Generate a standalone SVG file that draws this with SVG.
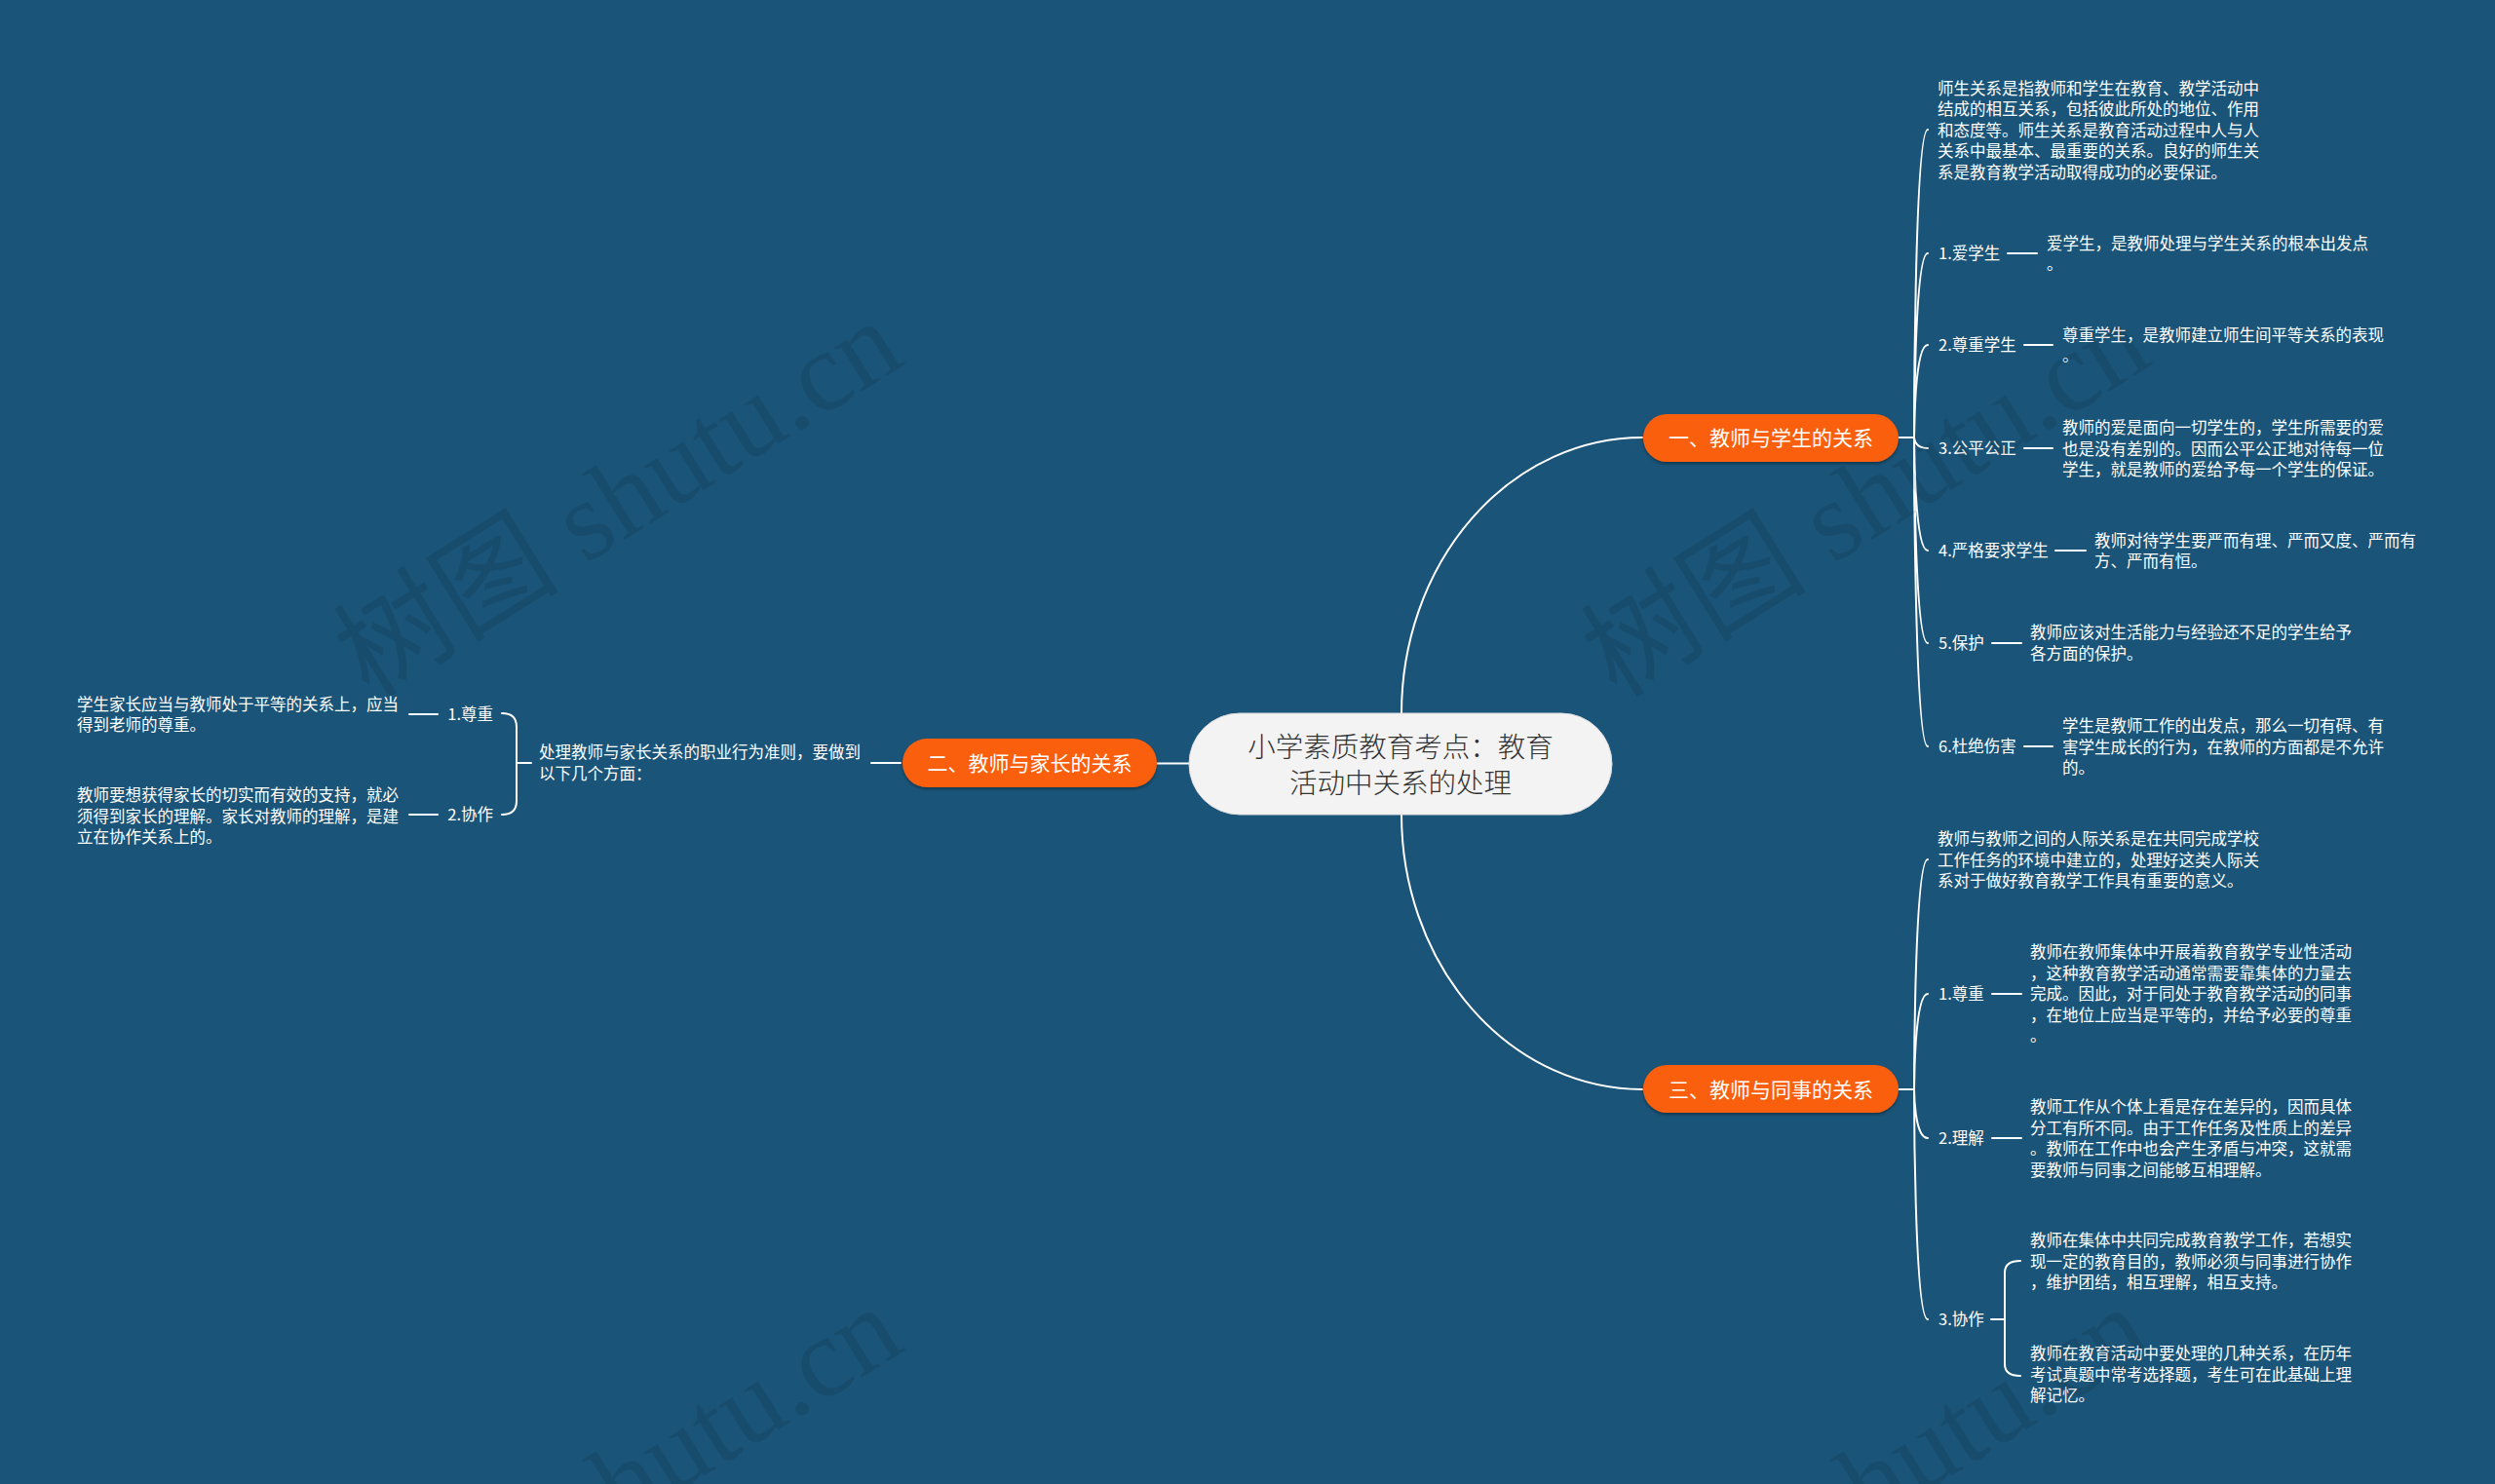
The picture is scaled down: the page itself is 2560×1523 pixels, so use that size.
<svg xmlns="http://www.w3.org/2000/svg" width="2560" height="1523" viewBox="0 0 2560 1523">
<defs>
<style>
.t{font-family:"Noto Sans CJK SC","Microsoft YaHei",sans-serif;font-size:16.5px;fill:#ffffff;dominant-baseline:central}
.e{text-anchor:end}
.c{stroke:#ffffff;stroke-width:2;fill:none;stroke-linecap:round}
.br{font-family:"Noto Sans CJK SC",sans-serif;font-size:21px;fill:#ffffff;text-anchor:middle;dominant-baseline:central}
.ctr{font-family:"Noto Sans CJK SC",sans-serif;font-size:28.5px;fill:#333333;text-anchor:middle;dominant-baseline:central;font-weight:300}
.wm{font-family:"Liberation Serif","DejaVu Serif","Noto Sans CJK SC",serif;font-size:116px;fill:#000000;fill-opacity:0.09;text-anchor:middle}
</style>
<filter id="sh" x="-10%" y="-20%" width="120%" height="150%">
<feDropShadow dx="0" dy="2" stdDeviation="1.5" flood-color="#000000" flood-opacity="0.35"/>
</filter>
</defs>
<rect width="2560" height="1523" fill="#1a5478"/>

<g id="connectors">
<path class="c" d="M1438,732 A247,283 0 0 1 1685,449"/>
<path class="c" d="M1438,836 A247,282 0 0 0 1685,1118"/>
<path class="c" d="M1187,783.5 H1220"/>
<path class="c" d="M1948,449 H1964"/>
<path class="c" d="M1964,449 C1964,449 1964,133 1978,133"/>
<path class="c" d="M1964,449 C1964,449 1964,260 1978,260"/>
<path class="c" d="M1964,449 C1964,449 1964,354 1978,354"/>
<path class="c" d="M1964,449 C1964,449 1964,460 1978,460"/>
<path class="c" d="M1964,449 C1964,449 1964,565 1978,565"/>
<path class="c" d="M1964,449 C1964,449 1964,660 1978,660"/>
<path class="c" d="M1964,449 C1964,449 1964,766 1978,766"/>
<path class="c" d="M2060,260 H2090"/>
<path class="c" d="M2077,354 H2106"/>
<path class="c" d="M2077,460 H2106"/>
<path class="c" d="M2109,565 H2140"/>
<path class="c" d="M2044,660 H2074"/>
<path class="c" d="M2077,766 H2106"/>
<path class="c" d="M1948,1118 H1964"/>
<path class="c" d="M1964,1118 C1964,1118 1964,882 1978,882"/>
<path class="c" d="M1964,1118 C1964,1118 1964,1020 1978,1020"/>
<path class="c" d="M1964,1118 C1964,1118 1964,1168 1978,1168"/>
<path class="c" d="M1964,1118 C1964,1118 1964,1354 1978,1354"/>
<path class="c" d="M2044,1020 H2074"/>
<path class="c" d="M2044,1168 H2074"/>
<path class="c" d="M2043,1354 H2057"/>
<path class="c" d="M2073,1294 Q2057,1294 2057,1306 L2057,1400 Q2057,1412 2073,1412"/>
<path class="c" d="M894,783 H924"/>
<path class="c" d="M530,783 H545"/>
<path class="c" d="M515,732 Q530,732 530,746 L530,822 Q530,836 515,836"/>
<path class="c" d="M420,733 H449"/>
<path class="c" d="M420,836 H449"/>
</g>

<g id="center">
<rect x="1220" y="732" width="434" height="104" rx="52" fill="#f3f3f3" stroke="#dcdcdc" stroke-width="1"/>
<text class="ctr" x="1437" y="764">小学素质教育考点：教育</text>
<text class="ctr" x="1437" y="801">活动中关系的处理</text>
</g>

<g id="b1">
<rect x="1686" y="425" width="262" height="49" rx="24.5" fill="#f95e0a" filter="url(#sh)"/>
<text class="br" x="1817" y="448">一、教师与学生的关系</text>
</g>
<g id="b2">
<rect x="926" y="758" width="261" height="50" rx="25" fill="#f95e0a" filter="url(#sh)"/>
<text class="br" x="1056.5" y="782">二、教师与家长的关系</text>
</g>
<g id="b3">
<rect x="1686" y="1093" width="262" height="49" rx="24.5" fill="#f95e0a" filter="url(#sh)"/>
<text class="br" x="1817" y="1117">三、教师与同事的关系</text>
</g>

<g id="b1-desc">
<text class="t" x="1988" y="89.5">师生关系是指教师和学生在教育、教学活动中</text>
<text class="t" x="1988" y="111">结成的相互关系，包括彼此所处的地位、作用</text>
<text class="t" x="1988" y="132.5">和态度等。师生关系是教育活动过程中人与人</text>
<text class="t" x="1988" y="154">关系中最基本、最重要的关系。良好的师生关</text>
<text class="t" x="1988" y="175.5">系是教育教学活动取得成功的必要保证。</text>
</g>
<g id="b1-1">
<text class="t" x="1989" y="259">1.爱学生</text>
<text class="t" x="2100" y="248.5">爱学生，是教师处理与学生关系的根本出发点</text>
<text class="t" x="2100" y="270">。</text>
</g>
<g id="b1-2">
<text class="t" x="1989" y="353">2.尊重学生</text>
<text class="t" x="2116" y="342.5">尊重学生，是教师建立师生间平等关系的表现</text>
<text class="t" x="2116" y="364">。</text>
</g>
<g id="b1-3">
<text class="t" x="1989" y="459">3.公平公正</text>
<text class="t" x="2116" y="438">教师的爱是面向一切学生的，学生所需要的爱</text>
<text class="t" x="2116" y="459.5">也是没有差别的。因而公平公正地对待每一位</text>
<text class="t" x="2116" y="481">学生，就是教师的爱给予每一个学生的保证。</text>
</g>
<g id="b1-4">
<text class="t" x="1989" y="564">4.严格要求学生</text>
<text class="t" x="2149" y="553.5">教师对待学生要严而有理、严而又度、严而有</text>
<text class="t" x="2149" y="575">方、严而有恒。</text>
</g>
<g id="b1-5">
<text class="t" x="1989" y="659">5.保护</text>
<text class="t" x="2083" y="648">教师应该对生活能力与经验还不足的学生给予</text>
<text class="t" x="2083" y="669.5">各方面的保护。</text>
</g>
<g id="b1-6">
<text class="t" x="1989" y="765">6.杜绝伤害</text>
<text class="t" x="2116" y="744">学生是教师工作的出发点，那么一切有碍、有</text>
<text class="t" x="2116" y="765.5">害学生成长的行为，在教师的方面都是不允许</text>
<text class="t" x="2116" y="787">的。</text>
</g>

<g id="b3-desc">
<text class="t" x="1988" y="860">教师与教师之间的人际关系是在共同完成学校</text>
<text class="t" x="1988" y="881.5">工作任务的环境中建立的，处理好这类人际关</text>
<text class="t" x="1988" y="903">系对于做好教育教学工作具有重要的意义。</text>
</g>
<g id="b3-1">
<text class="t" x="1989" y="1019">1.尊重</text>
<text class="t" x="2083" y="976">教师在教师集体中开展着教育教学专业性活动</text>
<text class="t" x="2083" y="997.5">，这种教育教学活动通常需要靠集体的力量去</text>
<text class="t" x="2083" y="1019">完成。因此，对于同处于教育教学活动的同事</text>
<text class="t" x="2083" y="1040.5">，在地位上应当是平等的，并给予必要的尊重</text>
<text class="t" x="2083" y="1062">。</text>
</g>
<g id="b3-2">
<text class="t" x="1989" y="1167">2.理解</text>
<text class="t" x="2083" y="1135">教师工作从个体上看是存在差异的，因而具体</text>
<text class="t" x="2083" y="1156.5">分工有所不同。由于工作任务及性质上的差异</text>
<text class="t" x="2083" y="1178">。教师在工作中也会产生矛盾与冲突，这就需</text>
<text class="t" x="2083" y="1199.5">要教师与同事之间能够互相理解。</text>
</g>
<g id="b3-3">
<text class="t" x="1989" y="1353">3.协作</text>
</g>
<g id="b3-3a">
<text class="t" x="2083" y="1272">教师在集体中共同完成教育教学工作，若想实</text>
<text class="t" x="2083" y="1293.5">现一定的教育目的，教师必须与同事进行协作</text>
<text class="t" x="2083" y="1315">，维护团结，相互理解，相互支持。</text>
</g>
<g id="b3-3b">
<text class="t" x="2083" y="1388">教师在教育活动中要处理的几种关系，在历年</text>
<text class="t" x="2083" y="1409.5">考试真题中常考选择题，考生可在此基础上理</text>
<text class="t" x="2083" y="1431">解记忆。</text>
</g>

<g id="b2-desc">
<text class="t" x="553" y="771">处理教师与家长关系的职业行为准则，要做到</text>
<text class="t" x="553" y="792.5">以下几个方面：</text>
</g>
<g id="b2-1">
<text class="t e" x="506" y="732">1.尊重</text>
<text class="t" x="79" y="721.5">学生家长应当与教师处于平等的关系上，应当</text>
<text class="t" x="79" y="743">得到老师的尊重。</text>
</g>
<g id="b2-2">
<text class="t e" x="506" y="835">2.协作</text>
<text class="t" x="79" y="815">教师要想获得家长的切实而有效的支持，就必</text>
<text class="t" x="79" y="836.5">须得到家长的理解。家长对教师的理解，是建</text>
<text class="t" x="79" y="858">立在协作关系上的。</text>
</g>

<g id="watermarks">
<text class="wm" transform="translate(655,545) rotate(-32)">树图 shutu.cn</text>
<text class="wm" transform="translate(1935,545) rotate(-32)">树图 shutu.cn</text>
<text class="wm" transform="translate(655,1557) rotate(-32)">树图 shutu.cn</text>
<text class="wm" transform="translate(1935,1557) rotate(-32)">树图 shutu.cn</text>
</g>
</svg>
